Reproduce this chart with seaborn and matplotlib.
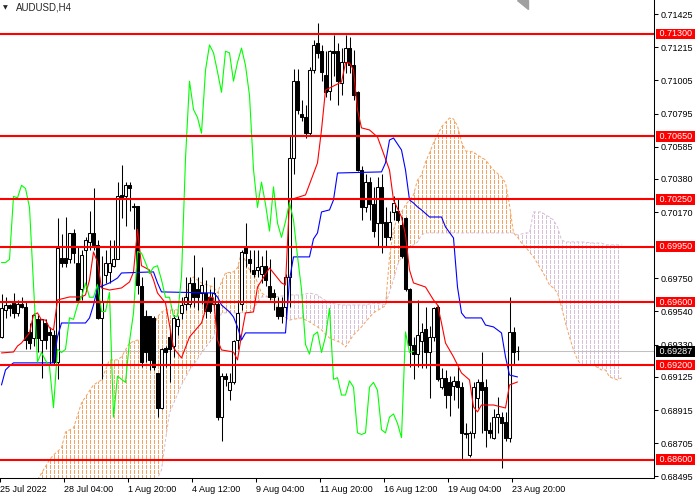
# AUDUSD H4 with Ichimoku and horizontal levels (MetaTrader style)
import numpy as np
import matplotlib
matplotlib.use('Agg')
import matplotlib.pyplot as plt
import matplotlib.transforms as mtransforms
from matplotlib.path import Path
from matplotlib.patches import Polygon
import seaborn as sns

# candles, bar 0 = left edge of the chart
opens = [
    0.6938, 0.6955, 0.6958, 0.6960, 0.6953, 0.6959, 0.6957, 0.6941, 0.6937, 0.6949,
    0.6936, 0.6947, 0.6941, 0.6939, 0.6922, 0.6988, 0.6988, 0.6987, 0.7004, 0.6985,
    0.6968, 0.6993, 0.6998, 0.7004, 0.6996, 0.6950, 0.6977, 0.6979, 0.6983, 0.6987,
    0.7028, 0.7027, 0.7034, 0.7021, 0.7021, 0.6970, 0.6951, 0.6951, 0.6950, 0.6915,
    0.6893, 0.6931, 0.6938, 0.6932, 0.6945, 0.6953, 0.6959, 0.6959, 0.6972, 0.6968,
    0.6966, 0.6966, 0.6963, 0.6959, 0.6959, 0.6887, 0.6913, 0.6904, 0.6909, 0.6936,
    0.6959, 0.6995, 0.6987, 0.6980, 0.6980, 0.6978, 0.6983, 0.6970, 0.6966, 0.6957,
    0.6957, 0.6957, 0.6976, 0.7051, 0.7100, 0.7079, 0.7077, 0.7067, 0.7107, 0.7124,
    0.7119, 0.7104, 0.7094, 0.7119, 0.7119, 0.7099, 0.7112, 0.7121, 0.7110, 0.7093,
    0.7044, 0.7020, 0.7036, 0.7022, 0.7010, 0.7033, 0.7011, 0.7001, 0.7017, 0.7018,
    0.7009, 0.7013, 0.6968, 0.6933, 0.6927, 0.6935, 0.6943, 0.6928, 0.6938, 0.6957,
    0.6906, 0.6912, 0.6909, 0.6907, 0.6910, 0.6906, 0.6877, 0.6863, 0.6877, 0.6899,
    0.6909, 0.6906, 0.6879, 0.6874, 0.6887, 0.6887, 0.6884, 0.6874, 0.6941, 0.6929,
]
highs = [
    0.6965, 0.6963, 0.6959, 0.6966, 0.6961, 0.6963, 0.6960, 0.6947, 0.6953, 0.6952,
    0.6949, 0.6949, 0.6944, 0.6942, 0.7013, 0.7003, 0.7014, 0.7004, 0.7006, 0.6995,
    0.6993, 0.7001, 0.7018, 0.7032, 0.6999, 0.6989, 0.6993, 0.6999, 0.6999, 0.7036,
    0.7047, 0.7036, 0.7036, 0.7023, 0.7021, 0.6976, 0.6955, 0.6951, 0.6951, 0.6915,
    0.6931, 0.6932, 0.6943, 0.6952, 0.6951, 0.6963, 0.6976, 0.6976, 0.6990, 0.6976,
    0.6982, 0.6974, 0.6968, 0.6976, 0.6960, 0.6915, 0.6915, 0.6915, 0.6936, 0.6961,
    0.6993, 0.7010, 0.6993, 0.6993, 0.6993, 0.6989, 0.6993, 0.6987, 0.6968, 0.6963,
    0.6963, 0.6978, 0.7066, 0.7108, 0.7108, 0.7088, 0.7085, 0.7109, 0.7126, 0.7137,
    0.7123, 0.7119, 0.7120, 0.7129, 0.7124, 0.7121, 0.7129, 0.7128, 0.7120, 0.7094,
    0.7046, 0.7041, 0.7039, 0.7033, 0.7039, 0.7041, 0.7020, 0.7018, 0.7027, 0.7025,
    0.7014, 0.7014, 0.6969, 0.6938, 0.6961, 0.6947, 0.6957, 0.6945, 0.6957, 0.6958,
    0.6918, 0.6917, 0.6913, 0.6913, 0.6919, 0.6909, 0.6883, 0.6878, 0.6909, 0.6911,
    0.6928, 0.6911, 0.6884, 0.6892, 0.6900, 0.6890, 0.6890, 0.6963, 0.6944, 0.6932,
]
lows = [
    0.6937, 0.6950, 0.6951, 0.6950, 0.6951, 0.6956, 0.6930, 0.6930, 0.6932, 0.6928,
    0.6912, 0.6930, 0.6921, 0.6921, 0.6911, 0.6982, 0.6982, 0.6985, 0.6985, 0.6960,
    0.6961, 0.6968, 0.6993, 0.6993, 0.6949, 0.6911, 0.6972, 0.6972, 0.6982, 0.6987,
    0.7013, 0.7008, 0.7018, 0.7006, 0.6965, 0.6919, 0.6922, 0.6917, 0.6917, 0.6887,
    0.6892, 0.6919, 0.6909, 0.6925, 0.6939, 0.6949, 0.6955, 0.6957, 0.6957, 0.6955,
    0.6959, 0.6950, 0.6953, 0.6955, 0.6885, 0.6872, 0.6907, 0.6898, 0.6908, 0.6930,
    0.6955, 0.6982, 0.6979, 0.6976, 0.6976, 0.6972, 0.6970, 0.6961, 0.6955, 0.6949,
    0.6947, 0.6949, 0.6957, 0.7041, 0.7079, 0.7075, 0.7064, 0.7066, 0.7105, 0.7115,
    0.7100, 0.7090, 0.7088, 0.7103, 0.7085, 0.7091, 0.7105, 0.7105, 0.7088, 0.7043,
    0.7012, 0.7017, 0.7012, 0.7001, 0.6995, 0.6991, 0.6995, 0.6999, 0.7012, 0.7011,
    0.6988, 0.6967, 0.6919, 0.6911, 0.6919, 0.6918, 0.6918, 0.6899, 0.6935, 0.6910,
    0.6905, 0.6893, 0.6888, 0.6898, 0.6893, 0.6860, 0.6874, 0.6862, 0.6874, 0.6893,
    0.6877, 0.6868, 0.6874, 0.6873, 0.6877, 0.6855, 0.6872, 0.6871, 0.6921, 0.6923,
]
closes = [
    0.6956, 0.6958, 0.6956, 0.6953, 0.6959, 0.6957, 0.6936, 0.6934, 0.6952, 0.6937,
    0.6949, 0.6936, 0.6939, 0.6922, 0.6994, 0.6985, 0.6985, 0.7004, 0.6991, 0.6961,
    0.6990, 0.6999, 0.7004, 0.6996, 0.6950, 0.6960, 0.6985, 0.6985, 0.6987, 0.7027,
    0.7026, 0.7034, 0.7032, 0.7020, 0.6971, 0.6922, 0.6928, 0.6923, 0.6919, 0.6893,
    0.6930, 0.6928, 0.6930, 0.6950, 0.6949, 0.6958, 0.6963, 0.6972, 0.6963, 0.6963,
    0.6971, 0.6954, 0.6954, 0.6966, 0.6887, 0.6913, 0.6911, 0.6909, 0.6935, 0.6953,
    0.6992, 0.6991, 0.6985, 0.6978, 0.6982, 0.6983, 0.6974, 0.6963, 0.6963, 0.6951,
    0.6951, 0.6976, 0.7051, 0.7100, 0.7082, 0.7077, 0.7067, 0.7107, 0.7123, 0.7118,
    0.7106, 0.7093, 0.7119, 0.7118, 0.7100, 0.7112, 0.7121, 0.7110, 0.7091, 0.7044,
    0.7020, 0.7036, 0.7022, 0.7005, 0.7033, 0.7010, 0.7001, 0.7011, 0.7023, 0.7012,
    0.6989, 0.6968, 0.6933, 0.6927, 0.6939, 0.6941, 0.6928, 0.6938, 0.6956, 0.6911,
    0.6912, 0.6901, 0.6901, 0.6910, 0.6906, 0.6877, 0.6876, 0.6877, 0.6906, 0.6909,
    0.6904, 0.6879, 0.6877, 0.6887, 0.6889, 0.6883, 0.6874, 0.6941, 0.6928, 0.69287,
]

# Tenkan-sen (red)
tenkan_bar = [0, 3, 4, 5, 6, 7, 8, 9, 10, 11, 12, 13, 14, 17, 20, 21, 22, 23, 24, 25,
              27, 30, 32, 33, 34, 35, 37, 38, 39, 41, 42, 43, 45, 47, 50, 52, 53, 54, 55, 58,
              59, 60, 61, 63, 64, 67, 70, 71, 72, 76, 79, 80, 81, 85, 86, 87, 88, 89, 90, 92,
              94, 95, 97, 98, 100, 101, 102, 103, 106, 108, 109, 110, 111, 113, 115, 117, 118,
              119, 120, 123, 126, 127, 129]
tenkan = [0.69277, 0.69283, 0.69321, 0.69340, 0.69372, 0.69404, 0.69518, 0.69531, 0.69486, 0.69486,
          0.69436, 0.69423, 0.69613, 0.69632, 0.69632, 0.69645, 0.69740, 0.69917, 0.69854, 0.69689,
          0.69676, 0.69689, 0.69727, 0.69790, 0.70060, 0.69830, 0.69803, 0.69740, 0.69657, 0.69594,
          0.69454, 0.69309, 0.69245, 0.69378, 0.69467, 0.69632, 0.69626, 0.69359, 0.69296, 0.69283,
          0.69233, 0.69391, 0.69531, 0.69537, 0.69695, 0.69816, 0.69721, 0.69708, 0.70247, 0.70279,
          0.70482, 0.70691, 0.70944, 0.70995, 0.71116, 0.71116, 0.71071, 0.70818, 0.70704, 0.70691,
          0.70646, 0.70577, 0.70437, 0.70247, 0.70139, 0.70025, 0.69803, 0.69721, 0.69695, 0.69613,
          0.69581, 0.69467, 0.69340, 0.69252, 0.69150, 0.69106, 0.68935, 0.68903, 0.68947, 0.68947,
          0.68928, 0.69074, 0.69093]

# Kijun-sen (blue)
kijun_bar = [0, 1, 2, 3, 13, 14, 15, 21, 22, 23, 24, 27, 29, 30, 38, 39, 40, 53, 54, 55,
             57, 58, 59, 60, 61, 71, 72, 73, 77, 78, 79, 80, 82, 83, 84, 95, 96, 97, 98, 100,
             101, 102, 103, 104, 105, 107, 110, 111, 113, 114, 115, 116, 120, 121, 123, 125,
             126, 127, 129]
kijun = [0.69074, 0.69169, 0.69194, 0.69214, 0.69214, 0.69379, 0.69467, 0.69467, 0.69499, 0.69581,
         0.69689, 0.69721, 0.69752, 0.69784, 0.69791, 0.69721, 0.69664, 0.69657, 0.69632, 0.69581,
         0.69537, 0.69505, 0.69442, 0.69359, 0.69404, 0.69404, 0.69740, 0.69886, 0.69886, 0.70000,
         0.70038, 0.70171, 0.70184, 0.70247, 0.70418, 0.70425, 0.70482, 0.70627, 0.70640, 0.70564,
         0.70437, 0.70247, 0.70228, 0.70203, 0.70184, 0.70139, 0.70139, 0.70076, 0.70006, 0.69695,
         0.69531, 0.69499, 0.69499, 0.69454, 0.69442, 0.69404, 0.69252, 0.69137, 0.69125]

# Senkou span A / B (cloud, already shifted 26 bars ahead)
cloud_bar = [9, 12, 13, 15, 16, 18, 20, 23, 25, 27,
             29, 30, 32, 34, 36, 37, 38, 39, 40, 41,
             42, 45, 47, 48, 50, 53, 54, 55, 56, 58,
             59, 60, 62, 63, 64, 65, 67, 68, 70, 72,
             75, 77, 79, 80, 82, 85, 86, 88, 90, 91,
             93, 95, 96, 97, 98, 99, 100, 101, 103, 104,
             105, 106, 107, 108, 109, 110, 112, 113, 114, 115,
             116, 118, 119, 121, 123, 125, 126, 127, 128, 129,
             130, 131, 132, 133, 135, 136, 137, 138, 139, 140,
             141, 142, 143, 144, 145, 148, 150, 151, 152, 154,
             155]
span_a = [0.68472, 0.68599, 0.68630, 0.68675, 0.68776, 0.68801, 0.68960, 0.69074, 0.69106, 0.69233,
          0.69233, 0.69252, 0.69340, 0.69359, 0.69347, 0.69359, 0.69442, 0.69505, 0.69537, 0.69550,
          0.69550, 0.69550, 0.69721, 0.69759, 0.69721, 0.69695, 0.69657, 0.69727, 0.69784, 0.69791,
          0.69816, 0.69917, 0.69803, 0.69791, 0.69721, 0.69657, 0.69626, 0.69613, 0.69518, 0.69486,
          0.69499, 0.69474, 0.69442, 0.69423, 0.69372, 0.69340, 0.69315, 0.69391, 0.69442, 0.69474,
          0.69531, 0.69562, 0.69575, 0.69886, 0.70057, 0.70139, 0.70171, 0.70215, 0.70279, 0.70374,
          0.70405, 0.70488, 0.70545, 0.70609, 0.70659, 0.70710, 0.70767, 0.70761, 0.70716, 0.70615,
          0.70558, 0.70551, 0.70532, 0.70501, 0.70437, 0.70393, 0.70355, 0.70215, 0.70038, 0.70012,
          0.69974, 0.69949, 0.69917, 0.69886, 0.69803, 0.69759, 0.69708, 0.69689, 0.69657, 0.69569,
          0.69467, 0.69378, 0.69296, 0.69233, 0.69201, 0.69201, 0.69169, 0.69169, 0.69125, 0.69106,
          0.69119]
span_b = [0.68091, 0.68123, 0.68123, 0.68142, 0.68155, 0.68187, 0.68218, 0.68269, 0.68313, 0.68345,
          0.68377, 0.68377, 0.68377, 0.68396, 0.68409, 0.68421, 0.68440, 0.68484, 0.68535, 0.68725,
          0.68897, 0.69074, 0.69169, 0.69201, 0.69277, 0.69378, 0.69454, 0.69531, 0.69531, 0.69531,
          0.69531, 0.69531, 0.69531, 0.69562, 0.69594, 0.69632, 0.69632, 0.69632, 0.69638, 0.69645,
          0.69645, 0.69657, 0.69645, 0.69626, 0.69594, 0.69581, 0.69581, 0.69581, 0.69581, 0.69581,
          0.69594, 0.69588, 0.69581, 0.69664, 0.69740, 0.69835, 0.69886, 0.69930, 0.69962, 0.69981,
          0.70025, 0.70038, 0.70038, 0.70038, 0.70038, 0.70038, 0.70038, 0.70038, 0.70038, 0.70038,
          0.70038, 0.70038, 0.70038, 0.70038, 0.70038, 0.70038, 0.70038, 0.70038, 0.70038, 0.70025,
          0.70031, 0.70038, 0.70038, 0.70171, 0.70171, 0.70152, 0.70139, 0.70120, 0.70076, 0.69993,
          0.69981, 0.69981, 0.69981, 0.69981, 0.69981, 0.69974, 0.69974, 0.69962, 0.69962, 0.69962,
          0.69962]

chikou_shift = 26
levels = [0.7130, 0.7065, 0.7025, 0.6995, 0.6960, 0.6920, 0.6860]
last_price = 0.69287
price_ticks = [0.71425, 0.71215, 0.71005, 0.70795, 0.70585, 0.70380, 0.70170,
               0.69750, 0.69540, 0.69330, 0.69125, 0.68915, 0.68705, 0.68495]
date_bars = [0, 16, 32, 48, 64, 80, 96, 112, 128]
date_labels = ['25 Jul 2022', '28 Jul 04:00', '1 Aug 20:00', '4 Aug 12:00', '9 Aug 04:00',
               '11 Aug 20:00', '16 Aug 12:00', '19 Aug 04:00', '23 Aug 20:00']

sns.set_theme(style='white')
plt.rcParams['font.family'] = ['Liberation Sans', 'DejaVu Sans']
plt.rcParams['lines.scale_dashes'] = False

fig = plt.figure(figsize=(7, 5), dpi=100)
ax = fig.add_axes([0, 22 / 500, 654 / 700, 478 / 500])
ymin, ymax = 0.68484, 0.71515
# bars sit on pixel centres (4 px per bar)
xmin, xmax = -0.375, 163.125
ax.set_xlim(xmin, xmax)
ax.set_ylim(ymin, ymax)

# cloud: dotted vertical strokes clipped by the span A/B area
cb = np.array(cloud_bar)
a = np.array(span_a)
b = np.array(span_b)
up = ax.fill_between(cb, a, b, where=a >= b, interpolate=True, facecolor='none', edgecolor='none')
dn = ax.fill_between(cb, a, b, where=a < b, interpolate=True, facecolor='none', edgecolor='none')
cols = np.arange(cb[0], cb[-1] + 1)
dot = (0, (2.16, 1.44))
for poly, col in [(up, '#F4A460'), (dn, '#D8BFD8')]:
    clip = Path.make_compound_path(*poly.get_paths())
    vl = ax.vlines(cols, ymin, ymax, colors=col, linewidth=0.72, linestyles=[dot], zorder=1,
                   antialiased=False)
    vl.set_clip_path(clip, ax.transData)
ax.plot(cb, a, color='#F4A460', lw=0.72, linestyle=dot, zorder=1.2)
ax.plot(cb, b, color='#D8BFD8', lw=0.72, linestyle=dot, zorder=1.2)

ax.axhline(last_price, color='#C0C0C0', lw=0.75, zorder=1.5)

# candles
o = np.array(opens)
h = np.array(highs)
l = np.array(lows)
c = np.array(closes)
x = np.arange(len(c))
bull = c >= o
ax.vlines(x, l, h, color='black', lw=0.75, zorder=3)
ax.bar(x[bull], (c - o)[bull], bottom=o[bull], width=0.65, color='white',
       edgecolor='black', linewidth=0.75, zorder=3.5)
ax.bar(x[~bull], (o - c)[~bull], bottom=c[~bull], width=0.65, color='black',
       edgecolor='black', linewidth=0.75, zorder=3.5)

# ichimoku lines
sns.lineplot(x=tenkan_bar, y=tenkan, color='#FF0000', linewidth=0.8, ax=ax, zorder=4)
sns.lineplot(x=kijun_bar, y=kijun, color='#0000FF', linewidth=0.8, ax=ax, zorder=4)
sns.lineplot(x=x[:-chikou_shift], y=c[chikou_shift:], color='#00FF00', linewidth=0.8, ax=ax, zorder=4)

for lv in levels:
    ax.axhline(lv, color='#FF0000', lw=1.5, zorder=5)

# axes look
for s in ['top', 'left']:
    ax.spines[s].set_visible(False)
for s in ['right', 'bottom']:
    ax.spines[s].set_color('black')
    ax.spines[s].set_linewidth(0.75)
ax.yaxis.tick_right()
ax.set_yticks(price_ticks)
ax.set_yticklabels([f'{p:.5f}' for p in price_ticks])
ax.tick_params(axis='y', direction='out', length=3, width=0.75, pad=2, labelsize=6.5,
               colors='black', left=False, right=True)
ax.set_xticks(np.array(date_bars) - 0.375)
ax.set_xticklabels(date_labels)
for lab in ax.get_xticklabels():
    lab.set_ha('left')
ax.tick_params(axis='x', direction='out', length=3, width=0.75, pad=2, labelsize=6.5,
               colors='black', bottom=True)
ax.set_xlabel('')
ax.set_ylabel('')
ax.grid(False)

tr = mtransforms.blended_transform_factory(ax.transAxes, ax.transData)
for lv in levels:
    ax.text(1.004, lv, f' {lv:.5f} ', transform=tr, ha='left', va='center', fontsize=6.5,
            color='white', bbox=dict(boxstyle='square,pad=0.1', fc='#FF0000', ec='none'),
            clip_on=False, zorder=10)
ax.text(1.004, last_price, f' {last_price:.5f} ', transform=tr, ha='left', va='center',
        fontsize=6.5, color='white', bbox=dict(boxstyle='square,pad=0.1', fc='black', ec='none'),
        clip_on=False, zorder=11)

# chart shift marker at the top
tr2 = mtransforms.blended_transform_factory(ax.transData, ax.transAxes)
ax.add_patch(Polygon([(128.8, 1.0), (131.6, 1.0), (131.6, 0.982)], closed=True,
                     transform=tr2, color='#A0A0A0', clip_on=False, zorder=6))

fig.text(3 / 700, 1 - 8 / 500, '\u25bc', fontsize=4.5, va='center', ha='left',
         family=['DejaVu Sans'])
fig.text(16 / 700, 1 - 8 / 500, 'AUDUSD,H4', fontsize=7, va='center', ha='left')

ax.set_xlim(xmin, xmax)
ax.set_ylim(ymin, ymax)
fig.savefig('out.png', dpi=100, facecolor='white')
